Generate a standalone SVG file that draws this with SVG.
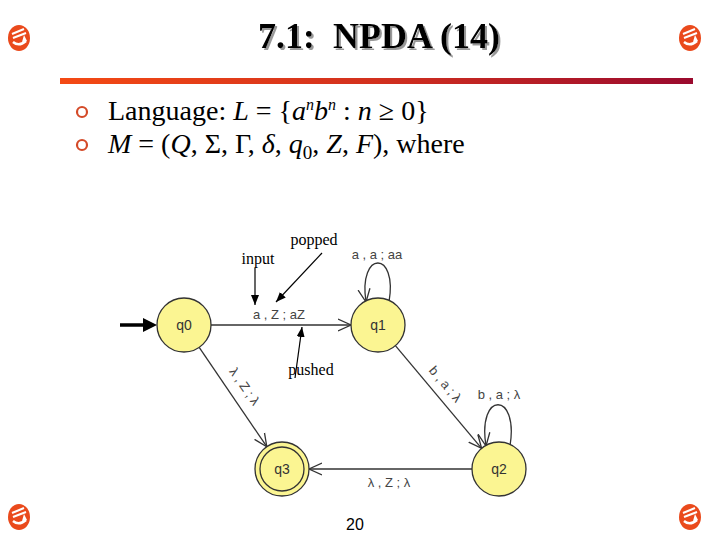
<svg xmlns="http://www.w3.org/2000/svg" width="720" height="540" viewBox="0 0 720 540">
<defs>
<linearGradient id="bar" x1="0" y1="0" x2="1" y2="0">
<stop offset="0" stop-color="#f44a14"/>
<stop offset="0.5" stop-color="#d2301e"/>
<stop offset="1" stop-color="#9a0a2e"/>
</linearGradient>
<filter id="shadow" x="-5%" y="-20%" width="115%" height="150%">
<feOffset in="SourceAlpha" dx="2" dy="2" result="off"/>
<feFlood flood-color="#999"/>
<feComposite in2="off" operator="in" result="sh"/>
<feMerge><feMergeNode in="sh"/><feMergeNode in="SourceGraphic"/></feMerge>
</filter>
<marker id="open" markerUnits="userSpaceOnUse" markerWidth="16" markerHeight="16" refX="13" refY="6" orient="auto" viewBox="0 0 16 12">
<path d="M0,0 L13,6 L0,12" fill="none" stroke="#333" stroke-width="1.3"/>
</marker>
<marker id="solid" markerUnits="userSpaceOnUse" markerWidth="10" markerHeight="8" refX="10" refY="4" orient="auto" viewBox="0 0 10 8">
<path d="M0,0 L10,4 L0,8 z" fill="#000"/>
</marker>
<g id="icon">
<ellipse cx="0" cy="0" rx="11" ry="13" fill="#ea4a1c"/>
<path d="M-7,-4 L5,-9 M-6,0 L7,-5" stroke="#fff" stroke-width="2" fill="none"/>
<path d="M-6,4 Q0,9 7,3" stroke="#fff" stroke-width="2.5" fill="none"/>
<path d="M5,-3 L8,3 L3,4 z" fill="#fff"/>
</g>
</defs>
<style>
.title{font-family:"Liberation Serif",serif;font-weight:bold;font-size:36px;}
.body{font-family:"Liberation Serif",serif;font-size:28px;fill:#000;}
.note{font-family:"Liberation Serif",serif;font-size:16px;fill:#000;}
.lbl{font-family:"Liberation Sans",Arial,sans-serif;font-size:13px;fill:#444;text-anchor:middle;}
.state circle{fill:#fbf592;stroke:#333;stroke-width:1.3;}
.state text{font-family:"Liberation Sans",Arial,sans-serif;font-size:14px;fill:#333;text-anchor:middle;}
.edge{fill:none;stroke:#333;stroke-width:1.3;}
.bul{fill:#fff;stroke:#d44a28;stroke-width:2.2;}
</style>
<rect width="720" height="540" fill="#fff"/>
<use href="#icon" x="19" y="38"/>
<use href="#icon" x="690" y="38"/>
<use href="#icon" x="19" y="517"/>
<use href="#icon" x="690" y="517"/>
<text class="title" x="379" y="48" fill="#000" text-anchor="middle" filter="url(#shadow)" xml:space="preserve">7.1:  NPDA (14)</text>
<rect x="60" y="78" width="633" height="6" fill="url(#bar)"/>
<circle class="bul" cx="82" cy="112" r="5"/>
<circle class="bul" cx="82" cy="145" r="5"/>
<text class="body" x="108" y="120">Language: <tspan font-style="italic">L</tspan> = {<tspan font-style="italic">a</tspan><tspan font-style="italic" font-size="16" dy="-10">n</tspan><tspan font-style="italic" dy="10">b</tspan><tspan font-style="italic" font-size="16" dy="-10">n</tspan><tspan dy="10"> : </tspan><tspan font-style="italic">n</tspan> ≥ 0}</text>
<text class="body" x="108" y="153"><tspan font-style="italic">M</tspan> = (<tspan font-style="italic">Q</tspan>, Σ, Γ, <tspan font-style="italic">δ</tspan>, <tspan font-style="italic">q</tspan><tspan font-size="19" dy="6">0</tspan><tspan dy="-6">, </tspan><tspan font-style="italic">Z</tspan>, <tspan font-style="italic">F</tspan>), where</text>
<g id="connectors">
<line class="edge" x1="211" y1="325" x2="351" y2="325" marker-end="url(#open)"/>
<line class="edge" x1="395.4" y1="345.7" x2="481.6" y2="448.3" marker-end="url(#open)"/>
<line class="edge" x1="199.2" y1="347.3" x2="266.8" y2="446.7" marker-end="url(#open)"/>
<line class="edge" x1="472" y1="469" x2="309" y2="469" marker-end="url(#open)"/>
<path class="edge" d="M389,302 C398,250 358,250 366,302" marker-end="url(#open)"/>
<path class="edge" d="M510,446 C519,391 477,391 486,446" marker-end="url(#open)"/>
<line x1="120" y1="325" x2="145" y2="325" stroke="#000" stroke-width="3.5"/>
<path d="M143,318 L157,325 L143,332 z" fill="#000"/>
<line x1="255" y1="268" x2="255" y2="305" stroke="#000" stroke-width="1.2" marker-end="url(#solid)"/>
<line x1="322" y1="253" x2="276" y2="302" stroke="#000" stroke-width="1.2" marker-end="url(#solid)"/>
<line x1="295" y1="378" x2="302" y2="327" stroke="#000" stroke-width="1.2" marker-end="url(#solid)"/>
</g>
<text class="lbl" x="279" y="319" xml:space="preserve">a , Z ; aZ</text>
<text class="lbl" x="377" y="259" xml:space="preserve">a , a ; aa</text>
<text class="lbl" x="499" y="399" xml:space="preserve">b , a ; λ</text>
<text class="lbl" x="389" y="487" xml:space="preserve">λ , Z ; λ</text>
<text class="lbl" transform="translate(442,387) rotate(50)" xml:space="preserve">b , a ; λ</text>
<text class="lbl" transform="translate(241,389) rotate(55)" xml:space="preserve">λ , Z ; λ</text>
<text class="note" x="258" y="264" text-anchor="middle">input</text>
<text class="note" x="314" y="245" text-anchor="middle">popped</text>
<text class="note" x="311" y="375" text-anchor="middle">pushed</text>
<g id="q0" class="state"><circle cx="184" cy="325" r="27"/><text x="184" y="330">q0</text></g>
<g id="q1" class="state"><circle cx="378" cy="325" r="27"/><text x="378" y="330">q1</text></g>
<g id="q2" class="state"><circle cx="499" cy="469" r="27"/><text x="499" y="474">q2</text></g>
<g id="q3" class="state"><circle cx="282" cy="469" r="27"/><circle cx="282" cy="469" r="22"/><text x="282" y="474">q3</text></g>
<text x="355" y="530" font-family="Liberation Sans, Arial, sans-serif" font-size="16" text-anchor="middle">20</text>
</svg>
